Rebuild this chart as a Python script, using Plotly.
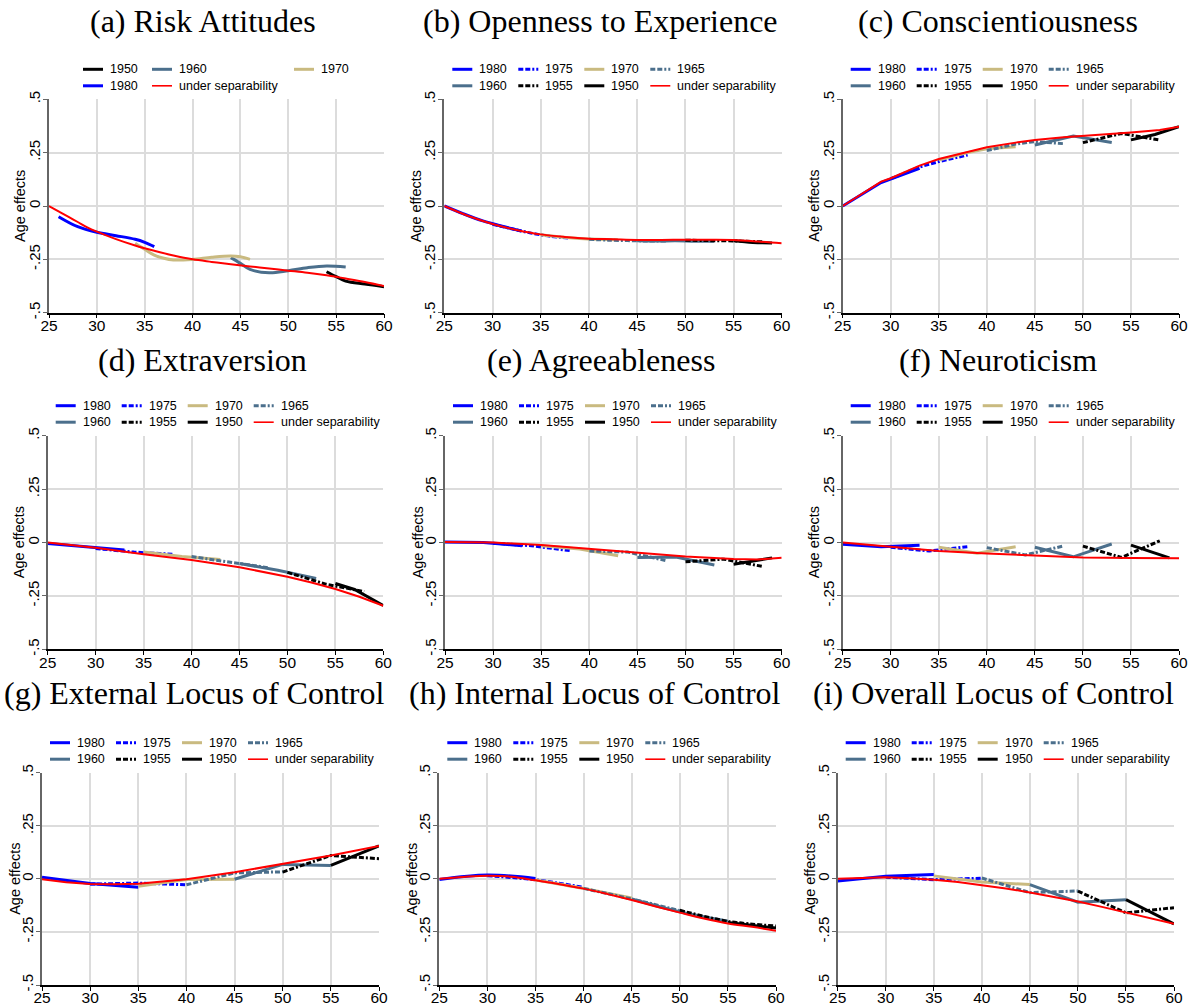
import plotly.graph_objects as go

W, H = 1195, 1005

# ------------------------------------------------------------------ data
TITLES = ["(a) Risk Attitudes", "(b) Openness to Experience", "(c) Conscientiousness",
          "(d) Extraversion", "(e) Agreeableness", "(f) Neuroticism",
          "(g) External Locus of Control", "(h) Internal Locus of Control",
          "(i) Overall Locus of Control"]
X_TICKS = [25, 30, 35, 40, 45, 50, 55, 60]
Y_TICKS = [-0.5, -0.25, 0, 0.25, 0.5]
Y_TICK_TEXT = ["-.5", "-.25", "0", ".25", ".5"]
Y_TITLE = "Age effects"
SEP = "under separability"

# (a) Risk Attitudes
a_age = {"1950": [54, 55, 56, 58, 60],
         "1960": [44, 45, 46, 48, 50, 52, 54, 56],
         "1970": [34, 35, 36, 37, 38, 40, 42, 44, 45, 46],
         "1980": [26, 28, 30, 32, 34, 35, 36],
         SEP: [25, 26, 27, 28, 29, 30, 32, 34, 35, 36, 38, 40, 42, 44, 46, 48, 50, 52, 54, 55, 56, 58, 60]}
a_val = {"1950": [-0.308, -0.331, -0.352, -0.366, -0.378],
         "1960": [-0.242, -0.269, -0.297, -0.313, -0.303, -0.289, -0.281, -0.286],
         "1970": [-0.175, -0.203, -0.23, -0.245, -0.253, -0.25, -0.24, -0.234, -0.238, -0.25],
         "1980": [-0.05, -0.097, -0.123, -0.139, -0.156, -0.17, -0.19],
         SEP: [0, -0.025, -0.05, -0.075, -0.1, -0.12, -0.155, -0.185, -0.198, -0.21, -0.232, -0.25,
               -0.262, -0.273, -0.283, -0.293, -0.303, -0.313, -0.325, -0.332, -0.34, -0.356, -0.375]}

# (b) Openness to Experience
b_age = {"1980": [25, 27, 29, 31, 33], "1975": [30, 32, 34, 36, 38], "1970": [35, 37, 39, 41, 43],
         "1965": [40, 42, 44, 46, 48], "1960": [45, 47, 49, 51, 53], "1955": [50, 52, 54, 56, 58],
         "1950": [55, 57, 59],
         SEP: [25, 27.5, 30, 32.5, 35, 37.5, 40, 42.5, 45, 47.5, 50, 52.5, 55, 57.5, 60]}
b_val = {"1980": [0.0, -0.037, -0.07, -0.095, -0.117], "1975": [-0.086, -0.107, -0.127, -0.142, -0.15],
         "1970": [-0.135, -0.145, -0.152, -0.156, -0.158], "1965": [-0.156, -0.16, -0.162, -0.164, -0.164],
         "1960": [-0.163, -0.164, -0.163, -0.165, -0.165], "1955": [-0.16, -0.162, -0.163, -0.165, -0.168],
         "1950": [-0.163, -0.171, -0.173],
         SEP: [0, -0.047, -0.084, -0.112, -0.133, -0.145, -0.153, -0.156, -0.159, -0.159, -0.158,
               -0.158, -0.159, -0.166, -0.175]}

# (c) Conscientiousness
c_age = {"1980": [25, 29, 33], "1975": [30, 33, 35, 38], "1970": [35, 38, 40, 43],
         "1965": [40, 43, 45, 48], "1960": [45, 49, 53], "1955": [50, 54, 58], "1950": [55, 57.5, 60],
         SEP: [25, 29, 30, 33, 35, 38, 40, 43, 45, 48, 50, 53, 55, 58, 60]}
c_val = {"1980": [0.0, 0.11, 0.177], "1975": [0.128, 0.183, 0.208, 0.239],
         "1970": [0.215, 0.25, 0.268, 0.278], "1965": [0.26, 0.29, 0.302, 0.292],
         "1960": [0.286, 0.328, 0.298], "1955": [0.297, 0.34, 0.309], "1950": [0.31, 0.335, 0.372],
         SEP: [0, 0.114, 0.13, 0.189, 0.22, 0.255, 0.275, 0.297, 0.309, 0.322, 0.328, 0.336, 0.344,
               0.356, 0.372]}

# (d) Extraversion
d_age = {"1980": [25, 29, 33], "1975": [30, 34, 38], "1970": [35, 39, 43], "1965": [40, 43, 45, 48],
         "1960": [45, 49, 53], "1955": [50, 54, 58], "1950": [55, 57, 60],
         SEP: [25, 30, 35, 40, 45, 47.5, 50, 52.5, 55, 57.5, 60]}
d_val = {"1980": [-0.005, -0.02, -0.035], "1975": [-0.028, -0.045, -0.055], "1970": [-0.045, -0.065, -0.08],
         "1965": [-0.066, -0.085, -0.1, -0.118], "1960": [-0.098, -0.13, -0.168],
         "1955": [-0.14, -0.195, -0.23], "1950": [-0.192, -0.22, -0.295],
         SEP: [0, -0.025, -0.055, -0.082, -0.116, -0.137, -0.16, -0.187, -0.218, -0.254, -0.296]}

# (e) Agreeableness
e_age = {"1980": [25, 29, 33], "1975": [30, 34, 38], "1970": [35, 39, 43], "1965": [40, 44, 48],
         "1960": [45, 49, 53], "1955": [50, 54, 58], "1950": [55, 57, 59],
         SEP: [25, 30, 35, 40, 45, 50, 55, 57.5, 60]}
e_val = {"1980": [0.002, 0.0, -0.015], "1975": [-0.003, -0.015, -0.038], "1970": [-0.015, -0.03, -0.062],
         "1965": [-0.04, -0.045, -0.085], "1960": [-0.07, -0.068, -0.105], "1955": [-0.09, -0.078, -0.112],
         "1950": [-0.102, -0.088, -0.072],
         SEP: [0.002, 0.0, -0.012, -0.03, -0.05, -0.066, -0.077, -0.08, -0.071]}

# (f) Neuroticism
f_age = {"1980": [25, 29, 33], "1975": [30, 34, 38], "1970": [35, 39, 43], "1965": [40, 44, 48],
         "1960": [45, 49, 53], "1955": [50, 54, 58], "1950": [55, 59],
         SEP: [25, 30, 35, 40, 45, 50, 55, 60]}
f_val = {"1980": [-0.008, -0.02, -0.013], "1975": [-0.022, -0.04, -0.02], "1970": [-0.022, -0.05, -0.02],
         "1965": [-0.024, -0.058, -0.016], "1960": [-0.022, -0.067, -0.007], "1955": [-0.017, -0.07, 0.008],
         "1950": [-0.012, -0.072],
         SEP: [0, -0.02, -0.04, -0.052, -0.062, -0.07, -0.072, -0.074]}

# (g) External Locus of Control
g_age = {"1980": [25, 30, 35], "1975": [30, 35, 40], "1970": [35, 40, 45], "1965": [40, 45, 50],
         "1960": [45, 50, 55], "1955": [50, 55, 60], "1950": [55, 60],
         SEP: [25, 27.5, 30, 32.5, 35, 37.5, 40, 45, 50, 55, 60]}
g_val = {"1980": [0.008, -0.022, -0.04], "1975": [-0.025, -0.02, -0.028], "1970": [-0.035, -0.003, -0.002],
         "1965": [-0.028, 0.028, 0.033], "1960": [-0.002, 0.068, 0.063], "1955": [0.032, 0.11, 0.095],
         "1950": [0.063, 0.155],
         SEP: [-0.002, -0.016, -0.024, -0.026, -0.023, -0.014, -0.002, 0.031, 0.07, 0.11, 0.155]}

# (h) Internal Locus of Control
h_age = {"1980": [25, 30, 35], "1975": [30, 35, 40], "1970": [35, 40, 45], "1965": [40, 45, 50],
         "1960": [45, 50, 55], "1955": [50, 55, 60], "1950": [55, 60],
         SEP: [25, 27.5, 30, 32.5, 35, 37.5, 40, 42.5, 45, 47.5, 50, 52.5, 55, 57.5, 60]}
h_val = {"1980": [-0.003, 0.018, 0.002], "1975": [0.015, -0.005, -0.04], "1970": [-0.005, -0.045, -0.09],
         "1965": [-0.045, -0.095, -0.15], "1960": [-0.095, -0.155, -0.2], "1955": [-0.148, -0.2, -0.222],
         "1950": [-0.205, -0.232],
         SEP: [0, 0.009, 0.015, 0.01, -0.007, -0.025, -0.046, -0.072, -0.1, -0.13, -0.159, -0.187,
               -0.21, -0.226, -0.244]}

# (i) Overall Locus of Control
i_age = {"1980": [25, 30, 35], "1975": [30, 35, 40], "1970": [35, 40, 45], "1965": [40, 45, 50],
         "1960": [45, 50, 55], "1955": [50, 55, 60], "1950": [55, 60],
         SEP: [25, 27.5, 30, 32.5, 35, 37.5, 40, 42.5, 45, 47.5, 50, 52.5, 55, 57.5, 60]}
i_val = {"1980": [-0.01, 0.012, 0.02], "1975": [0.008, -0.004, 0.003], "1970": [0.014, -0.015, -0.027],
         "1965": [0.004, -0.065, -0.057], "1960": [-0.027, -0.11, -0.099], "1955": [-0.058, -0.16, -0.136],
         "1950": [-0.098, -0.212],
         SEP: [0, 0.004, 0.007, 0.003, -0.004, -0.015, -0.029, -0.045, -0.064, -0.085, -0.107, -0.132,
               -0.159, -0.185, -0.212]}

PANEL_AGES = [a_age, b_age, c_age, d_age, e_age, f_age, g_age, h_age, i_age]
PANEL_VALS = [a_val, b_val, c_val, d_val, e_val, f_val, g_val, h_val, i_val]

# ------------------------------------------------------------------ styles
SLATE = "#4B6F8C"
KHAKI = "#C9BA80"
DASHDOT = "5px,2px,5px,2px,2px,2px"
STYLE = {"1980": ("#0000FF", "solid"), "1975": ("#0000FF", DASHDOT),
         "1970": (KHAKI, "solid"), "1965": (SLATE, DASHDOT),
         "1960": (SLATE, "solid"), "1955": ("#000000", DASHDOT),
         "1950": ("#000000", "solid"), SEP: ("#FF0000", "solid")}
SANS = "Liberation Sans, Arial, sans-serif"

# plot boxes in px: left, right, top, bottom
BOXES = [(49, 384, 99.3, 312.7), (444.3, 781.7, 99.3, 312.7), (842.7, 1179, 99.3, 312.7),
         (47.7, 383.3, 435.7, 649.3), (445, 781.7, 435.7, 649.3), (842.7, 1179, 435.7, 649.3),
         (42, 379, 772.7, 985), (439.3, 776, 772.7, 985), (837.7, 1174, 772.7, 985)]
TITLE_POS = [(202.5, 21), (600, 21), (997.5, 21), (202.6, 360), (600.5, 360), (998, 360),
             (194, 692.5), (595, 692.5), (993, 692.5)]
YTITLE_OFF = [29, 28, 29, 29, 28, 29, 27, 27, 28]

LEG_A = [("1950", 0, 34), ("1960", 0, 103), ("1970", 0, 245), ("1980", 1, 34), (SEP, 1, 103)]
LEG_STD = [("1980", 0, 8), ("1975", 0, 74), ("1970", 0, 140), ("1965", 0, 206),
           ("1960", 1, 8), ("1955", 1, 74), ("1950", 1, 140), (SEP, 1, 206)]

fig = go.Figure()
layout = dict(width=W, height=H, autosize=False, margin=dict(l=0, r=0, t=0, b=0, pad=0),
              paper_bgcolor="white", plot_bgcolor="white", showlegend=False,
              font=dict(family=SANS, color="black"))
shapes, annotations = [], []


def px(x):
    return x / W


def py(y):
    return 1 - y / H


for k in range(9):
    n = "" if k == 0 else str(k + 1)
    l, r, t, b = BOXES[k]
    layout["xaxis" + n] = dict(
        domain=[px(l), px(r)], anchor="y" + n, range=[25, 60], tickvals=X_TICKS,
        automargin=False, ticklabelstandoff=-6,
        showgrid=True, gridcolor="#DCDCDC", gridwidth=1.5, zeroline=False,
        showline=True, linecolor="#000000", linewidth=1.5,
        ticks="outside", ticklen=4, tickwidth=1.2, tickcolor="#000000",
        tickfont=dict(size=15.5, family=SANS))
    layout["yaxis" + n] = dict(
        domain=[py(b), py(t)], anchor="x" + n, range=[-0.5, 0.5], tickvals=Y_TICKS,
        ticktext=Y_TICK_TEXT, tickangle=-90, automargin=False, ticklabelstandoff=-3,
        showgrid=True, gridcolor="#DCDCDC", gridwidth=1.5, zeroline=False,
        showline=True, linecolor="#666666", linewidth=2,
        ticks="outside", ticklen=4, tickwidth=1.2, tickcolor="#666666",
        tickfont=dict(size=15, family=SANS))

    ages, vals = PANEL_AGES[k], PANEL_VALS[k]
    shape = "spline" if k in (0, 1, 7) else "linear"
    for name in ages:
        color, dash = STYLE[name]
        fig.add_trace(go.Scatter(
            x=ages[name], y=vals[name], mode="lines", name=name,
            xaxis="x" + n, yaxis="y" + n,
            line=dict(color=color, dash=dash, width=2 if name == SEP else 3, shape=shape)))

    # panel title
    tx, ty = TITLE_POS[k]
    annotations.append(dict(x=px(tx), y=py(ty), xref="paper", yref="paper", text=TITLES[k],
                            showarrow=False, xanchor="center", yanchor="middle",
                            font=dict(family="Liberation Serif, serif", size=32, color="black")))
    # y-axis title
    annotations.append(dict(x=px(l - YTITLE_OFF[k]), y=py((t + b) / 2), xref="paper", yref="paper",
                            text=Y_TITLE, textangle=-90, showarrow=False,
                            xanchor="center", yanchor="middle",
                            font=dict(size=14.5, color="black", family=SANS)))
    # legend
    entries = LEG_A if k == 0 else LEG_STD
    for name, row, off in entries:
        color, dash = STYLE[name]
        yy = py(t - 30 if row == 0 else t - 13.5)
        shapes.append(dict(type="line", xref="paper", yref="paper",
                           x0=px(l + off), x1=px(l + off + 20), y0=yy, y1=yy,
                           line=dict(color=color, dash=dash, width=1.6 if name == SEP else 3)))
        annotations.append(dict(x=px(l + off + 25), y=yy, xref="paper", yref="paper", text=name,
                                showarrow=False, xanchor="left", yanchor="middle",
                                font=dict(size=12.5, color="black", family=SANS)))

layout["shapes"] = shapes
layout["annotations"] = annotations
fig.update_layout(**layout)
fig.write_html("out.html")
